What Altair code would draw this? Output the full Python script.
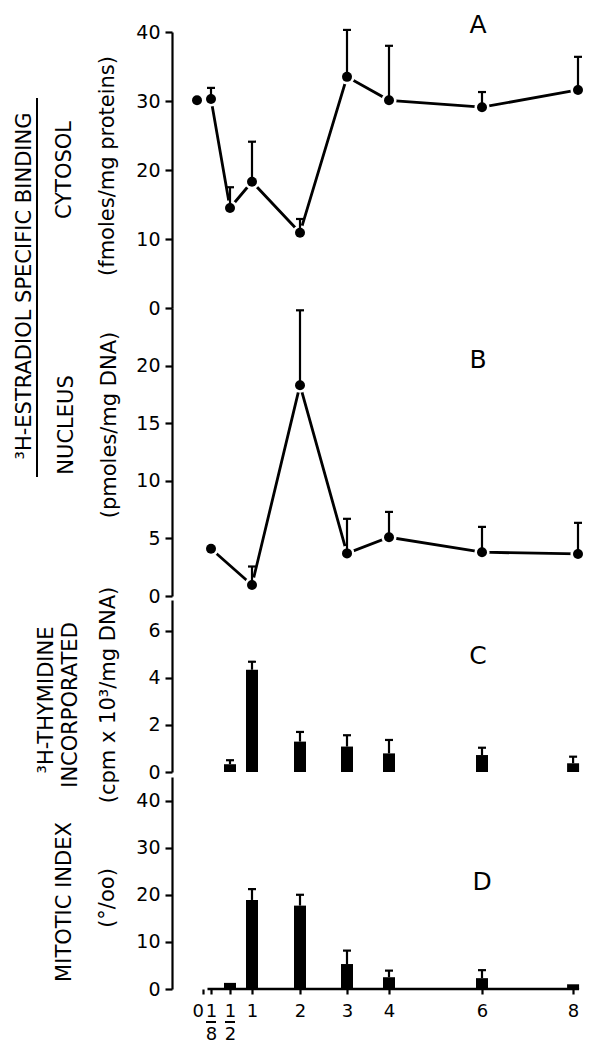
import altair as alt
import pandas as pd

FONT = "DejaVu Sans"

# x positions (days) and the non-linear time axis of the original figure
AXIS_TIMES = [0, 0.125, 0.5, 1, 2, 3, 4, 6, 8]
AXIS_RANGE = [25, 39, 58, 80, 128, 175, 217, 310, 406]

# Panel A: cytosol 3H-estradiol binding (fmoles/mg proteins)
A_t = [0, 0.125, 0.5, 1, 2, 3, 4, 6, 8]
A_v = [30.1, 30.3, 14.5, 18.3, 10.9, 33.5, 30.1, 29.1, 31.6]
A_e = [None, 1.6, 3.0, 5.8, 2.0, 6.8, 7.9, 2.2, 4.8]

# Panel B: nuclear binding (pmoles/mg DNA)
B_t = [0.125, 1, 2, 3, 4, 6, 8]
B_v = [4.1, 0.96, 18.3, 3.7, 5.1, 3.8, 3.65]
B_e = [None, 1.6, 6.5, 3.0, 2.2, 2.2, 2.7]

# Panel C: 3H-thymidine incorporated (cpm x 10^3 / mg DNA)
C_t = [0.5, 1, 2, 3, 4, 6, 8]
C_v = [0.33, 4.34, 1.29, 1.08, 0.79, 0.72, 0.37]
C_e = [0.17, 0.34, 0.41, 0.48, 0.57, 0.31, 0.28]

# Panel D: mitotic index (per mille)
D_t = [0.5, 1, 2, 3, 4, 6, 8]
D_v = [1.3, 18.9, 17.7, 5.3, 2.5, 2.3, 1.0]
D_e = [None, 2.3, 2.3, 2.85, 1.4, 1.7, None]

W = 412
TS = 21  # title font size
xscale = alt.Scale(domain=AXIS_TIMES, range=AXIS_RANGE, nice=False, zero=False)


def df_of(t, v, e):
    return pd.DataFrame({"t": t, "v": v, "e": e})


def yaxis(ticks):
    return alt.Axis(values=ticks, title=None, grid=False, format="d")


def X(field, xax):
    if xax is None:
        return alt.X(field, type="quantitative", scale=xscale, axis=None)
    return alt.X(field, type="quantitative", scale=xscale, axis=xax)


def Y(field, dom, ticks, rng):
    return alt.Y(field, type="quantitative",
                 scale=alt.Scale(domain=dom, range=rng, nice=False, zero=True),
                 axis=yaxis(ticks))


def note(text, x, y, size=TS, angle=270):
    return alt.Chart(pd.DataFrame({"a": [0]})).mark_text(
        text=text, angle=angle, font=FONT, fontSize=size, color="black",
        align="center", baseline="middle"
    ).encode(x=alt.value(x), y=alt.value(y))


def errors(df, dom, ticks, rng, xax=None):
    base = alt.Chart(df).transform_filter("isValid(datum.e)").transform_calculate(
        top="datum.v + datum.e")
    stem = base.mark_rule(color="black", strokeWidth=2.2).encode(
        x=X("t", xax), y=Y("v", dom, ticks, rng), y2="top:Q")
    cap = base.mark_rule(color="black", strokeWidth=2.2, xOffset=-4, x2Offset=4).encode(
        x=X("t", xax), x2="t:Q", y=Y("top", dom, ticks, rng))
    return [stem, cap]


def line_panel(df, dom, ticks, h, notes):
    rng = [h, 0]
    base = alt.Chart(df).encode(x=X("t", None))
    line = base.mark_line(color="black", strokeWidth=2.8).encode(y=Y("v", dom, ticks, rng))
    halo = base.mark_circle(color="white", size=230, opacity=1).encode(y=Y("v", dom, ticks, rng))
    pts = base.mark_circle(color="black", size=100, opacity=1).encode(y=Y("v", dom, ticks, rng))
    return alt.layer(line, halo, *errors(df, dom, ticks, rng), pts, *notes).properties(width=W, height=h)


def bar_panel(df, dom, ticks, h, gap, notes, xax=None, extra=()):
    rng = [h, gap]
    bars = alt.Chart(df).mark_bar(color="black", size=12).encode(
        x=X("t", xax), y=Y("v", dom, ticks, rng))
    return alt.layer(bars, *errors(df, dom, ticks, rng, xax), *extra, *notes).properties(width=W, height=h)


# ---- Panel A
A = line_panel(
    df_of(A_t, A_v, A_e), [0, 40], [0, 10, 20, 30, 40], 276,
    [
        note("CYTOSOL", -107, 138),
        note("(fmoles/mg proteins)", -64, 134),
        note("³H-ESTRADIOL SPECIFIC BINDING", -147, 254),
        alt.Chart(pd.DataFrame({"a": [0]})).mark_rule(color="black", strokeWidth=2).encode(
            x=alt.value(-135), y=alt.value(66), y2=alt.value(445)),
        note("A", 306, -7, size=25, angle=0),
    ],
)

# ---- Panel B
B = line_panel(
    df_of(B_t, B_v, B_e), [0, 25], [0, 5, 10, 15, 20], 288,
    [
        note("NUCLEUS", -105, 117),
        note("(pmoles/mg DNA)", -62, 117),
        note("B", 306, 52, size=25, angle=0),
    ],
)

# ---- Panel C (176 px tall, axis starting 4 px below the top)
C = bar_panel(
    df_of(C_t, C_v, C_e), [0, 7.3], [0, 2, 4, 6], 176, 4,
    [
        note("³H-THYMIDINE", -125, 104),
        note("INCORPORATED", -101, 109),
        note("(cpm x 10³/mg DNA)", -63, 99),
        note("C", 306, 60, size=25, angle=0),
    ],
)

# ---- Panel D (217 px tall, axis starting 5 px below the top)
FRAC = pd.DataFrame({"t": [0.125, 0.5]})
BASE = pd.DataFrame({"t0": [0], "t1": [8]})
label_expr = "datum.value == 0.125 ? ['1','8'] : datum.value == 0.5 ? ['1','2'] : datum.label"
xaxis_d = alt.Axis(
    values=AXIS_TIMES, title=None, grid=False, domain=False,
    labelExpr=label_expr,
    labelAlign={"condition": {"test": "datum.value == 0", "value": "right"}, "value": "center"},
    tickSize=5, labelPadding=8, labelLineHeight=23, labelFontSize=18,
    labelOverlap=False, labelBound=False, labelFlush=False,
)
frac_bars = alt.Chart(FRAC).mark_rule(color="black", strokeWidth=2, xOffset=-5, x2Offset=5).encode(
    x=X("t", xaxis_d), x2="t:Q", y=alt.value(250))
baseline = alt.Chart(BASE).mark_rule(color="black", strokeWidth=2.5, xOffset=4, x2Offset=6).encode(
    x=X("t0", xaxis_d), x2="t1:Q", y=alt.value(217))
D = bar_panel(
    df_of(D_t, D_v, D_e), [0, 45], [0, 10, 20, 30, 40], 217, 5,
    [
        note("MITOTIC INDEX", -107, 130),
        note("(°/oo)", -64, 126),
        note("D", 310, 110, size=25, angle=0),
    ],
    xax=xaxis_d,
    extra=(baseline, frac_bars),
)

chart = alt.vconcat(A, B, C, D, spacing=0, bounds="flush").properties(
    padding={"left": 6, "top": 5, "right": 0, "bottom": 0}
).configure_view(stroke=None).configure_axis(
    domainColor="black", domainWidth=2.2, tickColor="black", tickWidth=2.2, tickSize=7,
    labelFont=FONT, labelFontSize=19, labelColor="black", labelPadding=5, grid=False,
)

chart.save("out.html", embed_options={"renderer": "svg", "actions": False})
